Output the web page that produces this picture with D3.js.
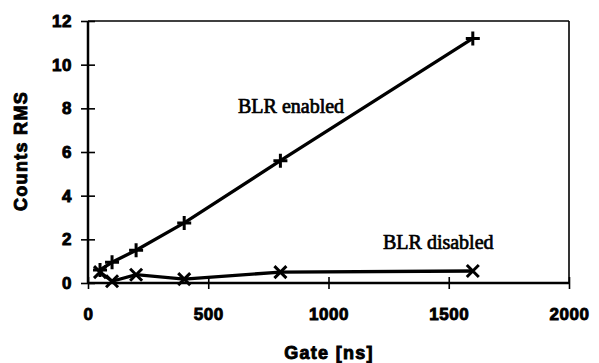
<!DOCTYPE html>
<html lang="en">
<head>
<meta charset="UTF-8">
<title>BLR gate</title>
<style>
  body { margin: 0; background: #fff; }
  #svg { display: block; }
  .tick text { font-family: "Liberation Sans", Arial, sans-serif; font-weight: bold; font-size: 17px; fill: #000; stroke: #000; stroke-width: 0.9px; letter-spacing: 0.5px; }
  .lab { font-family: "Liberation Serif", "Times New Roman", serif; font-size: 20px; fill: #000; }
  .title { font-family: "Liberation Sans", Arial, sans-serif; font-weight: bold; font-size: 18px; fill: #000; stroke: #000; stroke-width: 0.9px; letter-spacing: 1.3px; }
</style>
<script src="https://d3js.org/d3.v7.min.js"></script>
</head>
<body>
<svg id="svg"></svg>
<script>
  const width = 599;
  const height = 363;

  // gate values [ns]
  const gates = [50, 100, 200, 400, 800, 1600];
  const enabled = [0.6, 0.95, 1.5, 2.75, 5.6, 11.2];
  const disabled = [0.5, 0.08, 0.38, 0.18, 0.5, 0.55];
  const xTicks = [0, 500, 1000, 1500, 2000];
  const yTicks = [0, 2, 4, 6, 8, 10, 12];

  const margin = { left: 88, right: 30, top: 21, bottom: 80 };

  const x = d3.scaleLinear().domain([0, 2000]).range([margin.left, width - margin.right]);
  const y = d3.scaleLinear().domain([0, 12]).range([height - margin.bottom, margin.top]);

  const svg = d3.select('#svg').attr('width', width).attr('height', height);

  // frame top/right
  svg.append('line')
    .attr('x1', x(0)).attr('x2', x(2000))
    .attr('y1', y(12)).attr('y2', y(12))
    .attr('stroke', '#000').attr('stroke-width', 1.6);
  svg.append('line')
    .attr('x1', x(2000)).attr('x2', x(2000))
    .attr('y1', y(12)).attr('y2', y(0))
    .attr('stroke', '#000').attr('stroke-width', 1.6);

  const xAxis = svg.append('g')
    .attr('transform', 'translate(0,' + y(0) + ')')
    .call(d3.axisBottom(x).tickValues(xTicks).tickSize(6).tickPadding(19).tickFormat(d3.format('d')));
  xAxis.select('.domain').attr('stroke-width', 2.5);
  xAxis.selectAll('.tick line').attr('y1', -6).attr('stroke-width', 1.6);

  const yAxis = svg.append('g')
    .attr('transform', 'translate(' + x(0) + ',0)')
    .call(d3.axisLeft(y).tickValues(yTicks).tickSize(7).tickPadding(9));
  yAxis.select('.domain').attr('stroke-width', 2.5);
  yAxis.selectAll('.tick line').attr('x1', 7).attr('stroke-width', 1.6);
  xAxis.selectAll('.domain').attr('d', 'M' + x(0) + ',0H' + x(2000));
  yAxis.selectAll('.domain').attr('d', 'M0,' + y(0) + 'V' + y(12));

  const line = d3.line()
    .x((d, i) => x(gates[i]))
    .y(d => y(d));

  svg.append('path')
    .datum(disabled)
    .attr('d', line)
    .attr('fill', 'none')
    .attr('stroke', '#000')
    .attr('stroke-width', 3.3);

  svg.append('path')
    .datum(enabled)
    .attr('d', line)
    .attr('fill', 'none')
    .attr('stroke', '#000')
    .attr('stroke-width', 3.3);

  // + markers
  const s = 7;
  svg.selectAll('.plus')
    .data(enabled)
    .enter()
    .append('path')
    .attr('class', 'plus')
    .attr('d', (d, i) => {
      const cx = x(gates[i]), cy = y(d);
      return 'M' + (cx - s) + ',' + cy + 'H' + (cx + s) + 'M' + cx + ',' + (cy - s) + 'V' + (cy + s);
    })
    .attr('stroke', '#000')
    .attr('stroke-width', 3);

  // x markers
  const k = 6;
  svg.selectAll('.cross')
    .data(disabled)
    .enter()
    .append('path')
    .attr('class', 'cross')
    .attr('d', (d, i) => {
      const cx = x(gates[i]), cy = y(d);
      return 'M' + (cx - k) + ',' + (cy - k) + 'L' + (cx + k) + ',' + (cy + k) +
        'M' + (cx - k) + ',' + (cy + k) + 'L' + (cx + k) + ',' + (cy - k);
    })
    .attr('stroke', '#000')
    .attr('stroke-width', 3);

  svg.append('text').attr('class', 'lab')
    .attr('x', 238).attr('y', 113)
    .attr('stroke', '#000').attr('stroke-width', 0.7)
    .text('BLR enabled');
  svg.append('text').attr('class', 'lab')
    .attr('x', 383).attr('y', 249)
    .attr('stroke', '#000').attr('stroke-width', 0.7)
    .text('BLR disabled');

  svg.append('text').attr('class', 'title')
    .attr('x', 329).attr('y', 359)
    .attr('text-anchor', 'middle')
    .text('Gate [ns]');
  svg.append('text').attr('class', 'title')
    .attr('transform', 'translate(27,151) rotate(-90)')
    .attr('text-anchor', 'middle')
    .text('Counts RMS');
</script>
</body>
</html>
